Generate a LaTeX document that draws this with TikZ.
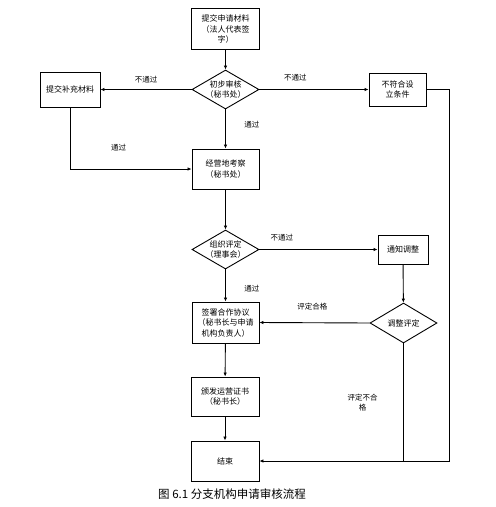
\documentclass[tikz,border=0pt]{standalone}
\usepackage{fontspec}
\newfontfamily\cjk{Noto Sans CJK SC}
\usetikzlibrary{shapes.geometric,arrows.meta}

\begin{document}
\begin{tikzpicture}[x=1pt,y=-1pt,
        every node/.style={font=\cjk\fontsize{8}{10.5}\selectfont},
        stepbox/.style={draw,line width=0.9pt,align=center,inner sep=1pt},
        choice/.style={diamond,draw,line width=0.9pt,inner sep=0pt,minimum width=67pt,minimum height=39pt},
        note/.style={font=\cjk\fontsize{7.5}{10}\selectfont,align=center},
        flow/.style={line width=0.9pt,-{Latex[length=4pt,width=3.5pt]}},
        wire/.style={line width=0.9pt}]
    \useasboundingbox (0,0) rectangle (496,507);

    % boxes and decisions
    \node[stepbox,minimum width=68pt,minimum height=41pt] (submit) at (225.5,29) {提交申请材料\\（法人代表签\\字）};
    \node[choice,label={[align=center]center:{初步审核\\（秘书处）}}] (check) at (225.5,89.5) {};
    \node[stepbox,minimum width=60pt,minimum height=35pt] (supply) at (70,89.5) {提交补充材料};
    \node[stepbox,minimum width=57pt,minimum height=33pt] (reject) at (397.5,89.5) {不符合设\\立条件};
    \node[stepbox,minimum width=67pt,minimum height=40pt] (survey) at (225.5,169) {经营地考察\\（秘书处）};
    \node[choice,label={[align=center]center:{组织评定\\（理事会）}}] (review) at (225.5,249.5) {};
    \node[stepbox,minimum width=50pt,minimum height=29pt] (notify) at (403,249.5) {通知调整};
    \node[choice,minimum height=40pt,label={center:调整评定}] (adjust) at (403.5,323) {};
    \node[stepbox,minimum width=67pt,minimum height=41pt] (sign) at (225.5,322.5) {签署合作协议\\（秘书长与申请\\机构负责人）};
    \node[stepbox,minimum width=68pt,minimum height=39pt] (issue) at (225,396.5) {颁发运营证书\\（秘书长）};
    \node[stepbox,minimum width=68pt,minimum height=40pt] (finish) at (225,461) {结束};
    \coordinate (corner) at (449,461);

    % connectors
    \draw[flow] (submit) -- (check);
    \draw[flow] (check.west) -- (supply.east) node[note,midway,above=3pt] {不通过};
    \draw[flow] (check.east) -- (reject.west) node[note,pos=0.33,above=5pt] {不通过};
    \draw[flow] (check.south) -- (survey.north) node[note,pos=0.4,right=15pt] {通过};
    \draw[flow] (supply.south) |- (survey.west) node[note,pos=0.7,above=14pt] {通过};
    \draw[flow] (survey) -- (review);
    \draw[flow] (review.east) -- (notify.west) node[note,pos=0.19,above=5pt] {不通过};
    \draw[flow] (review.south) -- (sign.north) node[note,pos=0.6,right=15pt] {通过};
    \draw[flow] (notify) -- (adjust);
    \draw[flow] (adjust.west) -- (sign.east) node[note,pos=0.52,above=9pt] {评定合格};
    \draw[flow] (sign) -- (issue);
    \draw[flow] (issue) -- (finish);
    \draw[wire] (adjust.south) -- (adjust.south |- finish.east) node[note,midway,left=22pt] {评定不合\\格};
    \draw[flow] (reject.east) -| (corner) -- (finish.east);

    \node[font=\cjk\fontsize{11.5}{13}\selectfont] (caption) at (232,494) {图 6.1 分支机构申请审核流程};
\end{tikzpicture}
\end{document}
